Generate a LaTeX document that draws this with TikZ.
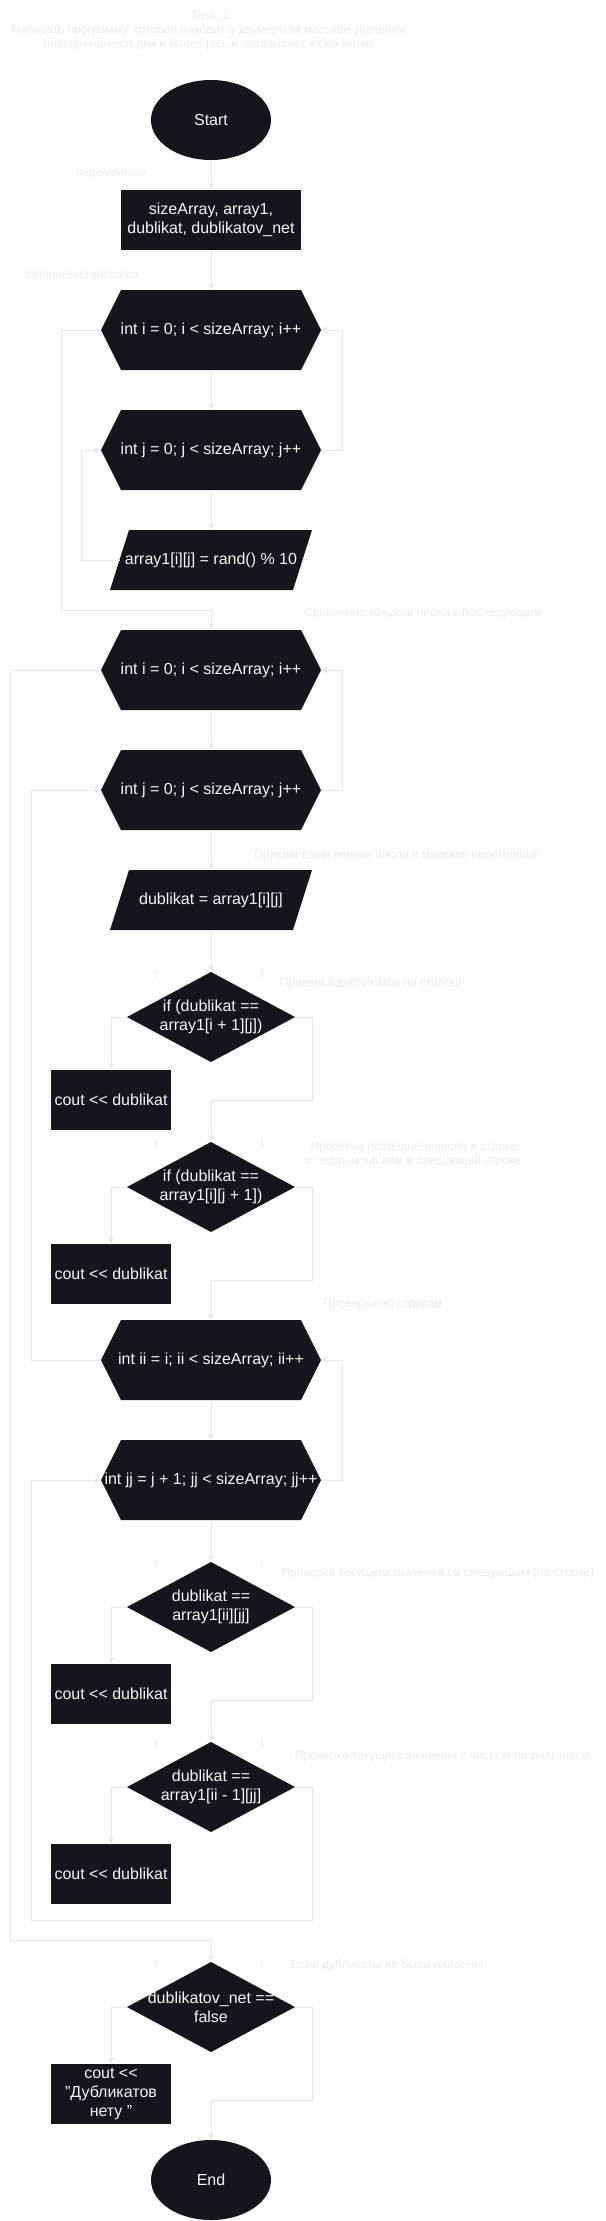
\documentclass[tikz,border=0pt]{standalone}
\usepackage{fontspec}
\setmainfont{Liberation Sans}
\usetikzlibrary{shapes.geometric,arrows.meta}
\definecolor{nodefill}{HTML}{18141D}
\definecolor{edgecol}{HTML}{E8E8E8}
\definecolor{notecol}{HTML}{ECECEC}
\definecolor{textcol}{HTML}{F4F4F4}

\begin{document}
\begin{tikzpicture}[x=1pt,y=-1pt,
  base/.style={inner sep=0pt, text=textcol, font=\fontsize{16}{19}\selectfont, align=center},
  terminal/.style={base, ellipse, fill=nodefill, minimum width=120pt, minimum height=80pt},
  proc/.style={base, rectangle, fill=nodefill, minimum width=120pt, minimum height=60pt},
  hexloop/.style={base, minimum width=220pt, minimum height=80pt, fill=white,
    path picture={\fill[nodefill] ([xshift=20pt]path picture bounding box.north west)
      -- ([xshift=-20pt]path picture bounding box.north east) -- (path picture bounding box.east)
      -- ([xshift=-20pt]path picture bounding box.south east) -- ([xshift=20pt]path picture bounding box.south west)
      -- (path picture bounding box.west) -- cycle;}},
  iobox/.style={base, minimum width=202pt, minimum height=60pt, fill=white,
    path picture={\fill[nodefill] ([xshift=19pt]path picture bounding box.north west)
      -- (path picture bounding box.north east) -- ([xshift=-19pt]path picture bounding box.south east)
      -- (path picture bounding box.south west) -- cycle;}},
  decide/.style={base, minimum width=168pt, minimum height=90pt, fill=white,
    path picture={\fill[nodefill] (path picture bounding box.north) -- (path picture bounding box.east)
      -- (path picture bounding box.south) -- (path picture bounding box.west) -- cycle;}},
  remark/.style={inner sep=0pt, text=notecol, font=\fontsize{12}{14}\selectfont, align=center},
  link/.style={draw=edgecol, line width=1pt, -{Stealth[length=7pt,width=6pt]}}
]
\useasboundingbox (0,0) rectangle (605,2221);

\node[terminal](start) at (211, 120) {Start};
\node[proc, minimum width=180pt](vars) at (211, 220) {sizeArray, array1,\\dublikat, dublikatov\_net};
\node[hexloop](iloop1) at (211, 330) {int i = 0; i < sizeArray; i++};
\node[hexloop](jloop1) at (211, 450) {int j = 0; j < sizeArray; j++};
\node[iobox](rnd) at (211, 560) {array1[i][j] = rand() \% 10};
\node[hexloop](iloop2) at (211, 670) {int i = 0; i < sizeArray; i++};
\node[hexloop](jloop2) at (211, 790) {int j = 0; j < sizeArray; j++};
\node[iobox](take) at (211, 900) {dublikat = array1[i][j]};
\node[decide](col) at (211, 1017) {if (dublikat ==\\array1[i + 1][j])};
\node[proc](out1) at (111, 1100) {cout <{}< dublikat};
\node[decide](nxt) at (211, 1187) {if (dublikat ==\\array1[i][j + 1])};
\node[proc](out2) at (111, 1274) {cout <{}< dublikat};
\node[hexloop](iiloop) at (211, 1360) {int ii = i; ii < sizeArray; ii++};
\node[hexloop](jjloop) at (211, 1480) {int jj = j + 1; jj < sizeArray; jj++};
\node[decide](same) at (211, 1607) {dublikat ==\\array1[ii][jj]};
\node[proc](out3) at (111, 1694) {cout <{}< dublikat};
\node[decide](diag) at (211, 1787) {dublikat ==\\array1[ii - 1][jj]};
\node[proc](out4) at (111, 1874) {cout <{}< dublikat};
\node[decide](nodup) at (211, 2007) {dublikatov\_net ==\\false};
\node[proc](out5) at (111, 2094) {cout <{}<\\"Дубликатов\\нету "};
\node[terminal](finish) at (211, 2180) {End};

\draw[link] (start) -- (vars);
\draw[link] (vars) -- (iloop1);
\draw[link] (iloop1) -- (jloop1);
\draw[link] (jloop1) -- (rnd);
\draw[link] ([xshift=10pt]rnd.west) -- (81, 560) |- (jloop1.west);
\draw[link] (jloop1.east) -- (342, 450) |- (iloop1.east);
\draw[link] (iloop1.west) -| (61, 610) -| (iloop2.north);
\draw[link] (iloop2) -- (jloop2);
\draw[link] (jloop2) -- (take);
\draw[link] (take) -- (col);
\draw[link] (col.west) -| (out1.north);
\draw[link] (col.east) -| (312, 1100) -| (nxt.north);
\draw[link] (nxt.west) -| (out2.north);
\draw[link] (nxt.east) -| (312, 1280) -| (iiloop.north);
\draw[link] (iiloop) -- (jjloop);
\draw[link] (jjloop) -- (same);
\draw[link] (same.west) -| (out3.north);
\draw[link] (same.east) -| (312, 1700) -| (diag.north);
\draw[link] (diag.west) -| (out4.north);
\draw[link] (diag.east) -| (312, 1920) -- (31, 1920) |- (jjloop.west);
\draw[link] (jjloop.east) -- (342, 1480) |- (iiloop.east);
\draw[link] (iiloop.west) -- (31, 1360) |- (jloop2.west);
\draw[link] (jloop2.east) -- (342, 790) |- (iloop2.east);
\draw[link] (iloop2.west) -| (10, 1940) -| (nodup.north);
\draw[link] (nodup.west) -| (out5.north);
\draw[link] (nodup.east) -| (312, 2100) -| (finish.north);

\node[remark](title) at (210, 30) {Task\_1\\Написать программу, которая находит в двумерном массиве значения,\\повторяющиеся два и более раз, и показывает их на экран.};
\node[remark](n1) at (111, 175) {переменные};
\node[remark](n2) at (81, 275) {заполнение массива};
\node[remark](n3) at (423, 614) {Сравнение каждого числа с последующим};
\node[remark](n4) at (397, 855) {Присваиваем первое число в массиве переменной};
\node[remark](n5) at (372, 983) {Проверка дубликатов по столбцу};
\node[remark](n6) at (414, 1155) {Проверка последнего числа в строке\\с первым числом в следующей строке};
\node[remark](n7) at (383, 1305) {Проверка по строкам};
\node[remark](n8) at (438, 1573) {Проверка текущего значения со следующим (по строке)};
\node[remark](n9) at (442, 1757) {Проверка текущего значения с числом по диагонали};
\node[remark](n10) at (387, 1965) {Если дубликаты не были найдены};
\node[remark](t1) at (156, 974) {t};
\node[remark](f1) at (262, 974) {f};
\node[remark](t2) at (156, 1144) {t};
\node[remark](f2) at (262, 1144) {f};
\node[remark](t3) at (156, 1564) {t};
\node[remark](f3) at (262, 1564) {f};
\node[remark](t4) at (156, 1744) {t};
\node[remark](f4) at (262, 1744) {f};
\node[remark](t5) at (156, 1964) {t};
\node[remark](f5) at (262, 1964) {f};
\end{tikzpicture}
\end{document}
